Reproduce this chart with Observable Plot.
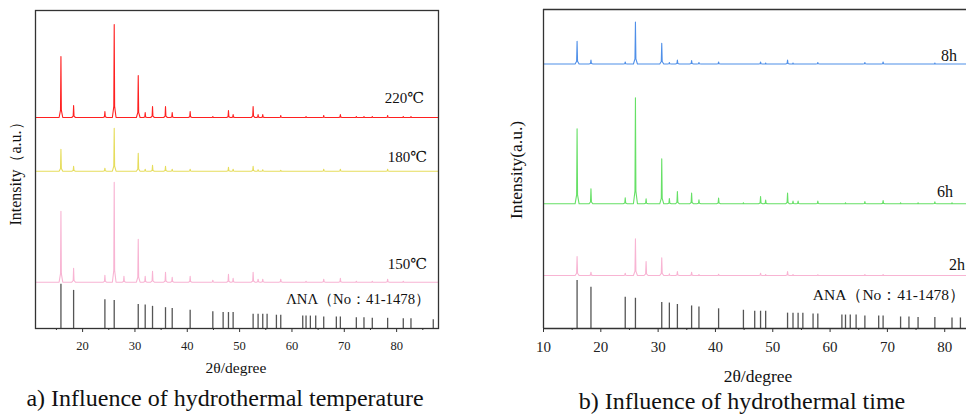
<!DOCTYPE html>
<html><head><meta charset="utf-8">
<script src="https://cdn.jsdelivr.net/npm/d3@7"></script>
<script src="https://cdn.jsdelivr.net/npm/@observablehq/plot@0.6"></script>
<style>
body{margin:0;background:#fff;}
#root{position:relative;width:966px;height:417px;overflow:hidden;font-family:"Liberation Serif",Tinos,"Times New Roman","DejaVu Serif","Noto Serif",serif;color:#111;}
.pl{position:absolute;top:0;}
.t{position:absolute;white-space:nowrap;line-height:1;}
</style></head>
<body><div id="root"></div>
<script>
// ---- reference pattern ANA (No: 41-1478)
const anaPos = [15.86, 18.28, 24.26, 26.04, 30.63, 31.96, 33.36, 35.84, 37.12, 40.55, 44.88, 46.85, 47.87, 48.76, 52.58, 53.53, 54.42, 55.25, 57.03, 57.86, 62.06, 62.69, 63.52, 64.54, 66.07, 68.48, 69.25, 72.30, 73.76, 75.35, 78.28, 81.27, 82.74, 87.00];
const anaInt = [100, 86, 65, 63, 54, 53, 50, 47, 45, 41, 38, 36, 36, 36, 32, 32, 32, 32, 30, 30, 28, 28, 28, 28, 26, 26, 26, 24, 24, 23, 23, 22, 22, 20];

// ---- panel a) temperature series (baseline offset + peak heights, a.u.)
const pos220 = [15.86, 18.28, 24.26, 26.04, 30.63, 31.96, 33.36, 35.84, 37.12, 40.55, 44.88, 47.87, 48.76, 52.58, 53.53, 54.42, 57.86, 62.69, 66.07, 69.25, 72.30, 73.76, 75.35, 78.28, 81.27, 82.74];
const int220 = [61, 12, 6, 93, 42, 5, 11, 11, 5, 6, 1, 7, 3, 11, 3, 3, 2, 1, 2, 3, 1, 1, 1, 2, 1, 1];
const base220 = 211;

const pos180 = [15.86, 18.28, 24.26, 26.04, 30.63, 31.96, 33.36, 35.84, 37.12, 40.55, 47.87, 48.76, 52.58, 53.53, 54.42, 57.86, 66.07, 69.25, 78.28];
const int180 = [22, 5, 3, 43, 18, 2, 6, 5, 2, 2, 4, 2, 5, 1.5, 1.5, 1, 2, 2, 2];
const base180 = 157.3;

const pos150 = [15.86, 18.28, 24.26, 26.04, 27.90, 30.63, 31.96, 33.36, 35.84, 37.12, 40.55, 44.88, 47.87, 48.76, 52.58, 53.53, 54.42, 57.86, 62.69, 66.07, 69.25, 72.30, 75.35, 78.28, 81.27];
const int150 = [71, 14, 7, 100, 6, 43, 6, 11, 10, 5, 6, 2, 8, 4, 10, 3, 3, 3, 1, 3, 4, 1, 1, 3, 1];
const base150 = 46.3;

// ---- panel b) time series
const pos8h = [15.86, 18.28, 24.26, 26.04, 30.63, 31.96, 33.36, 35.84, 37.12, 40.55, 47.87, 48.76, 52.58, 53.53, 57.86, 66.07, 69.25, 78.28];
const int8h = [22.7, 4, 2, 42, 20.7, 1.5, 4, 3.5, 1.5, 2, 2, 1, 4, 1, 1.5, 1.5, 2, 1];
const base8h = 264.5;

const pos6h = [15.86, 18.28, 24.26, 26.04, 27.90, 30.63, 31.96, 33.36, 35.84, 37.12, 40.55, 44.88, 47.87, 48.76, 52.58, 53.53, 54.42, 57.86, 62.69, 66.07, 69.25, 72.30, 75.35, 78.28, 81.27];
const int6h = [75, 15, 6, 106, 5, 45, 5.3, 12.3, 10.7, 4, 5.7, 1, 7.3, 3.7, 10.7, 2.7, 2.7, 2.7, 1, 2.3, 3.3, 1, 1, 2, 1];
const base6h = 124.7;

const pos2h = [15.86, 18.28, 24.26, 26.04, 27.90, 30.63, 31.96, 33.36, 35.84, 37.12, 40.55, 47.87, 48.76, 52.58, 53.53, 57.86, 66.07, 69.25];
const int2h = [19, 3.3, 2.3, 36.7, 14, 17.7, 1.7, 4, 3.3, 1, 1.3, 2.3, 1, 4, 1, 0.7, 1, 1];
const base2h = 53;

// tick values
const ticksA = [20, 30, 40, 50, 60, 70, 80];
const minorA = [15, 25, 35, 45, 55, 65, 75, 85];
const ticksB = [10, 20, 30, 40, 50, 60, 70, 80];
const minorB = [15, 25, 35, 45, 55, 65, 75];

// build a stick-profile polyline from peak list
function profile(pos, ints, base, x0, x1) {
  const pts = [{x: x0, y: base}];
  pos.forEach((p, i) => {
    const h = ints[i];
    pts.push({x: p - 0.35, y: base}, {x: p - 0.08, y: base + 0.12 * h}, {x: p, y: base + h},
             {x: p + 0.08, y: base + 0.12 * h}, {x: p + 0.35, y: base});
  });
  pts.push({x: x1, y: base});
  return pts;
}
const anaData = anaPos.map((x, i) => ({x, h: anaInt[i]}));

const FONT = '"Liberation Serif",Tinos,"Times New Roman","DejaVu Serif","Noto Serif",serif';
const axisStyle = {fontFamily: FONT, color: "#222", background: "transparent", overflow: "visible"};

const plotA = Plot.plot({
  width: 460, height: 385,
  marginLeft: 35, marginRight: 22, marginTop: 10, marginBottom: 57,
  x: {domain: [11, 88], label: null},
  y: {domain: [0, 318], axis: null, label: null},
  style: {...axisStyle, fontSize: "12.5px"},
  marks: [
    Plot.ruleX(anaData, {x: "x", y1: 0, y2: d => d.h * 0.443, stroke: "#555", strokeWidth: 1.3}),
    Plot.line(profile(pos150, int150, base150, 11, 88), {x: "x", y: "y", stroke: "#f8b4d3", strokeWidth: 1.1}),
    Plot.line(profile(pos180, int180, base180, 11, 88), {x: "x", y: "y", stroke: "#e6dd5c", strokeWidth: 1.1}),
    Plot.line(profile(pos220, int220, base220, 11, 88), {x: "x", y: "y", stroke: "#ff2020", strokeWidth: 1.1}),
    Plot.axisX({ticks: ticksA, tickSize: 4, tickPadding: 9, label: null, stroke: "#333", fontFamily: FONT}),
    Plot.axisX({ticks: minorA, tickSize: 2, tickFormat: () => "", label: null, stroke: "#333"}),
    Plot.frame({stroke: "#333", strokeWidth: 1.3})
  ]
});

const plotB = Plot.plot({
  width: 476, height: 385,
  marginLeft: 53, marginRight: 0, marginTop: 9, marginBottom: 57,
  x: {domain: [10, 83.8], label: null},
  y: {domain: [0, 319], axis: null, label: null},
  style: {...axisStyle, fontSize: "15px"},
  marks: [
    Plot.ruleX(anaData.filter(d => d.x <= 83.8), {x: "x", y1: 0, y2: d => d.h * 0.48, stroke: "#555", strokeWidth: 1.3}),
    Plot.line(profile(pos2h, int2h, base2h, 10, 83.8), {x: "x", y: "y", stroke: "#f8b4d3", strokeWidth: 1.1}),
    Plot.line(profile(pos6h, int6h, base6h, 10, 83.8), {x: "x", y: "y", stroke: "#66e066", strokeWidth: 1.1}),
    Plot.line(profile(pos8h, int8h, base8h, 10, 83.8), {x: "x", y: "y", stroke: "#4f8fe8", strokeWidth: 1.1}),
    Plot.ruleY([319], {stroke: "#333", strokeWidth: 1.3}),
    Plot.ruleY([0], {stroke: "#333", strokeWidth: 1.3}),
    Plot.ruleX([10], {stroke: "#333", strokeWidth: 1.3}),
    Plot.axisX({ticks: ticksB, tickSize: 4, tickPadding: 9, label: null, stroke: "#333", fontFamily: FONT}),
    Plot.axisX({ticks: minorB, tickSize: 2, tickFormat: () => "", label: null, stroke: "#333"})
  ]
});

const root = document.getElementById("root");
const wa = document.createElement("div"); wa.className = "pl"; wa.style.left = "0px"; wa.appendChild(plotA); root.appendChild(wa);
const wb = document.createElement("div"); wb.className = "pl"; wb.style.left = "490px"; wb.appendChild(plotB); root.appendChild(wb);

// text labels: [text, x, y, size, anchor, rotate]
const labels = [
  ["Intensity（a.u.）", 16, 170, 16, "c", true],
  ["220℃", 424, 98, 15, "r"],
  ["180℃", 427, 157, 15, "r"],
  ["150℃", 427, 264, 15, "r"],
  ["ΛNΛ（No：41-1478）", 430, 299, 14.7, "r"],
  ["2θ/degree", 236, 368, 15.5, "c"],
  ["a) Influence of hydrothermal temperature", 225, 398, 24, "c"],
  ["Intensity(a.u.)", 517, 170, 17.5, "c", true],
  ["8h", 957, 56, 16, "r"],
  ["6h", 953, 192, 16, "r"],
  ["2h", 965, 265, 16, "r"],
  ["ANA（No：41-1478）", 965, 295, 15.5, "r"],
  ["2θ/degree", 758, 377, 17.5, "c"],
  ["b) Influence of hydrothermal time", 742, 401, 24, "c"]
];
for (const [txt, x, y, size, anchor, rot] of labels) {
  const d = document.createElement("div");
  d.className = "t";
  d.textContent = txt;
  d.style.left = x + "px";
  d.style.top = y + "px";
  d.style.fontSize = size + "px";
  d.style.fontFamily = FONT;
  const tx = anchor === "r" ? "-100%" : "-50%";
  d.style.transform = `translate(${tx},-50%)` + (rot ? " rotate(-90deg)" : "");
  root.appendChild(d);
}
</script>
</body></html>
